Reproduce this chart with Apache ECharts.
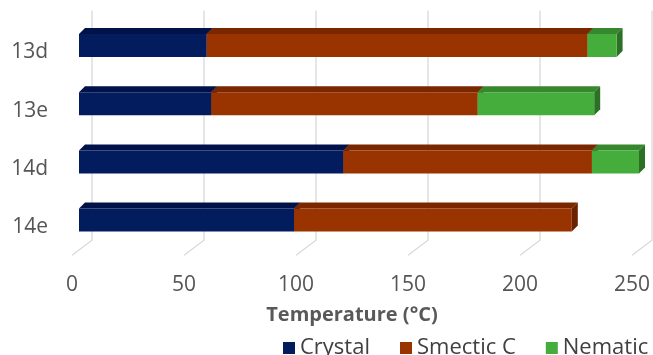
<!DOCTYPE html>
<html>
<head>
<meta charset="utf-8">
<script src="https://cdn.jsdelivr.net/npm/echarts@6/dist/echarts.min.js"></script>
<style>
  html, body { margin: 0; padding: 0; background: #ffffff; }
  #chart { width: 653px; height: 355px; }
</style>
</head>
<body>
<div id="chart"></div>
<script>
// Phase ranges of each compound, in °C (segment lengths, stacked left to right)
var compounds = ['13d', '13e', '14d', '14e'];
var crystal   = [57, 59, 118, 96];
var smecticC  = [170, 119, 111, 124];
var nematic   = [13, 52, 21, 0];
var ticks     = [0, 50, 100, 150, 200, 250];

var phases = [
  { name: 'Crystal',   values: crystal,  front: '#021c5e', top: '#01124a', side: '#010f3c' },
  { name: 'Smectic C', values: smecticC, front: '#993300', top: '#7a2700', side: '#6a2200' },
  { name: 'Nematic',   values: nematic,  front: '#45ad3c', top: '#36872e', side: '#2c7025' }
];

// Bar geometry of the pseudo-3D look
var FRONT_H = 23;   // height of the front face
var DX = 6, DY = 6; // depth offset of top / side faces
var WALL = 13;      // back wall offset behind the bar plane
var FLOOR_DX = 20, FLOOR_DY = 15;

function phaseSeries(phase, idx) {
  var data = compounds.map(function (c, i) {
    var start = 0;
    for (var k = 0; k < idx; k++) start += phases[k].values[i];
    return [i, start, start + phase.values[i]];
  });
  return {
    type: 'custom',
    name: phase.name,
    itemStyle: { color: phase.front },
    z: 3,
    data: data,
    encode: { x: [1, 2], y: 0 },
    renderItem: function (params, api) {
      var cat = api.value(0), s = api.value(1), e = api.value(2);
      if (e - s <= 0) return null;
      var p0 = api.coord([s, cat]);
      var p1 = api.coord([e, cat]);
      var yc = p0[1];
      var yt = yc - FRONT_H / 2, yb = yc + FRONT_H / 2;
      var x0 = p0[0], x1 = p1[0];
      return {
        type: 'group',
        children: [
          { type: 'polygon', shape: { points: [[x0, yt], [x0 + DX, yt - DY], [x1 + DX, yt - DY], [x1, yt]] },
            style: { fill: phase.top } },
          { type: 'polygon', shape: { points: [[x1, yt], [x1 + DX, yt - DY], [x1 + DX, yb - DY], [x1, yb]] },
            style: { fill: phase.side } },
          { type: 'rect', shape: { x: x0, y: yt, width: x1 - x0, height: FRONT_H },
            style: { fill: phase.front } }
        ]
      };
    }
  };
}

var gridSeries = {
  type: 'custom',
  name: 'walls',
  silent: true,
  z: 1,
  data: ticks.map(function (t) { return [t, 0]; }),
  encode: { x: 0, y: 1 },
  renderItem: function (params, api) {
    var cs = params.coordSys;
    var x = api.coord([api.value(0), 0])[0] + WALL;
    var top = cs.y - 6, bottom = cs.y + cs.height - 9;
    return {
      type: 'polyline',
      shape: { points: [[x, top], [x, bottom], [x - FLOOR_DX, bottom + FLOOR_DY]] },
      style: { stroke: '#d9d9d9', lineWidth: 1.3, fill: null }
    };
  }
};

var chart = echarts.init(document.getElementById('chart'));
chart.setOption({
  animation: false,
  textStyle: { fontFamily: 'Open Sans' },
  grid: { left: 79, right: 14, top: 16.4, bottom: 105.8 },
  xAxis: {
    type: 'value',
    min: 0, max: 250, interval: 50,
    name: 'Temperature (°C)',
    nameLocation: 'middle',
    nameGap: 56,
    nameTextStyle: { fontSize: 20, fontWeight: 'bold', color: '#595959', padding: [0, 14, 0, 0] },
    axisLine: { show: false },
    axisTick: { show: false },
    splitLine: { show: false },
    axisLabel: { fontSize: 21, color: '#555555', margin: 25, padding: [0, 14, 0, 0] }
  },
  yAxis: {
    type: 'category',
    data: compounds,
    inverse: true,
    axisLine: { show: false },
    axisTick: { show: false },
    splitLine: { show: false },
    axisLabel: {
      margin: 31,
      formatter: function (v) { return '{c|' + v + '}'; },
      rich: { c: { fontSize: 21, color: '#555555', fontFamily: 'Open Sans', padding: [14, 0, 0, 0] } }
    }
  },
  legend: {
    data: phases.map(function (p) { return p.name; }),
    bottom: -9,
    left: 278,
    width: 420,
    icon: 'rect',
    itemWidth: 12,
    itemHeight: 12,
    itemGap: 30,
    textStyle: { fontSize: 22, color: '#404040' }
  },
  series: [gridSeries].concat(phases.map(phaseSeries))
});
</script>
</body>
</html>
